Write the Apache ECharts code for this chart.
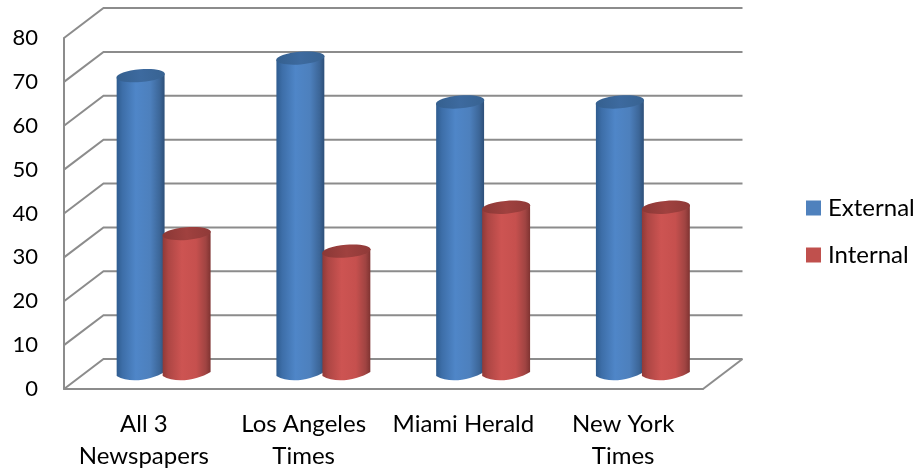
<!DOCTYPE html>
<html><head><meta charset="utf-8">
<style>html,body{margin:0;padding:0;background:#fff}#c{width:920px;height:473px}</style>
<script src="https://cdn.jsdelivr.net/npm/echarts@6/dist/echarts.min.js"></script>
</head><body><div id="c"></div>
<script>
const categories = ['All 3\nNewspapers', 'Los Angeles\nTimes', 'Miami Herald', 'New York\nTimes'];
const external = [68, 72, 62, 62];
const internal = [32, 28, 38, 38];
const yTicks = [0, 10, 20, 30, 40, 50, 60, 70, 80];

const FONT = 'Lato';
const DEPTH = [39.5, -30];
const GRID = '#8c8c8c';

const chart = echarts.init(document.getElementById('c'), null, {renderer: 'canvas'});

function wallItem(params, api) {
  const v = api.value(0);
  const band = api.size([1, 0])[0];
  const p = api.coord([0, v]);
  const x0 = p[0] - band / 2, y0 = p[1];
  const x1 = x0 + DEPTH[0], y1 = y0 + DEPTH[1];
  const x2 = x1 + band * categories.length;
  const children = [{
    type: 'polyline',
    shape: {points: [[x0, y0], [x1, y1], [x2, y1]]},
    style: {stroke: GRID, lineWidth: 2, fill: null}
  }];
  if (v === 0) {
    children.push({
      type: 'polyline',
      shape: {points: [[x2, y1], [x2 - DEPTH[0], y0]]},
      style: {stroke: GRID, lineWidth: 2, fill: null}
    });
  }
  return {type: 'group', children};
}

function cylinder(side, stops, topStops) {
  return function (params, api) {
    const i = api.value(0);
    const band = api.size([1, 0])[0];
    const r = band * 0.15;
    const top = api.coord([i, api.value(1)]);
    const bot = api.coord([i, 0]);
    const cx = top[0] + DEPTH[0] / 2 + side * band * 0.144;
    const yT = top[1] + DEPTH[1] / 2;
    const yB = bot[1] + DEPTH[1] / 2;
    const L = cx - r, R = cx + r, tilt = 2;
    const path = 'M' + L + ' ' + (yT + tilt) +
      ' L' + L + ' ' + (yB + tilt) +
      ' C' + (L + r * 0.55) + ' ' + (yB + tilt + 8) + ' ' + (R - r * 0.55) + ' ' + (yB - tilt + 8) + ' ' + R + ' ' + (yB - tilt) +
      ' L' + R + ' ' + (yT - tilt) + ' Z';
    return {
      type: 'group',
      children: [{
        type: 'path',
        shape: {pathData: path, layout: 'none'},
        style: {fill: {type: 'linear', x: 0, y: 0, x2: 1, y2: 0, colorStops: stops}}
      }, {
        type: 'ellipse',
        x: cx, y: yT,
        rotation: Math.atan2(2 * tilt, 2 * r),
        shape: {cx: 0, cy: 0, rx: r + 0.3, ry: 6.4},
        style: {fill: {type: 'linear', x: 0, y: 0, x2: 1, y2: 0, colorStops: topStops}}
      }]
    };
  };
}

const blueStops = [
  {offset: 0, color: '#2f5c8f'}, {offset: 0.12, color: '#3d6ea8'},
  {offset: 0.4, color: '#4f86c8'}, {offset: 0.7, color: '#4d80bd'},
  {offset: 0.9, color: '#3c6698'}, {offset: 1, color: '#2d4f78'}
];
const redStops = [
  {offset: 0, color: '#8f3a38'}, {offset: 0.12, color: '#ad4644'},
  {offset: 0.4, color: '#cd5452'}, {offset: 0.7, color: '#c6504e'},
  {offset: 0.9, color: '#a04442'}, {offset: 1, color: '#7f3331'}
];
const blueTop = [{offset: 0, color: '#35608f'}, {offset: 0.5, color: '#3d6a9f'}, {offset: 1, color: '#386392'}];
const redTop = [{offset: 0, color: '#8a3836'}, {offset: 0.5, color: '#a0413f'}, {offset: 1, color: '#8f3a38'}];

chart.setOption({
  animation: false,
  backgroundColor: '#fff',
  textStyle: {fontFamily: FONT},
  grid: {left: 64, right: 217, top: 38, bottom: 84, containLabel: false},
  legend: {
    orient: 'vertical', left: 801, top: 189, itemWidth: 15, itemHeight: 15, itemGap: 19,
    icon: 'rect',
    textStyle: {fontFamily: FONT, fontSize: 24, color: '#000', lineHeight: 28, padding: [0, 0, 0, 2]},
    data: ['External', 'Internal']
  },
  xAxis: {
    type: 'category', data: categories,
    axisTick: {show: false},
    axisLine: {lineStyle: {color: GRID, width: 2}},
    axisLabel: {fontFamily: FONT, fontSize: 24, color: '#000', margin: 19, lineHeight: 32, interval: 0, verticalAlign: 'top'}
  },
  yAxis: {
    type: 'value', min: 0, max: 80, interval: 10,
    splitLine: {show: false},
    axisTick: {show: false},
    axisLine: {show: true, lineStyle: {color: GRID, width: 2}},
    axisLabel: {fontFamily: FONT, fontSize: 22, color: '#000', margin: 26}
  },
  series: [
    {name: 'walls', type: 'custom', renderItem: wallItem, data: yTicks.map(v => [v]),
     encode: {y: 0}, silent: true, z: 1},
    {name: 'External', type: 'custom', renderItem: cylinder(-1, blueStops, blueTop),
     itemStyle: {color: '#4f81bd'}, data: external.map((v, i) => [i, v]), encode: {x: 0, y: 1}, z: 2},
    {name: 'Internal', type: 'custom', renderItem: cylinder(1, redStops, redTop),
     itemStyle: {color: '#c0504d'}, data: internal.map((v, i) => [i, v]), encode: {x: 0, y: 1}, z: 3}
  ]
});
</script></body></html>
